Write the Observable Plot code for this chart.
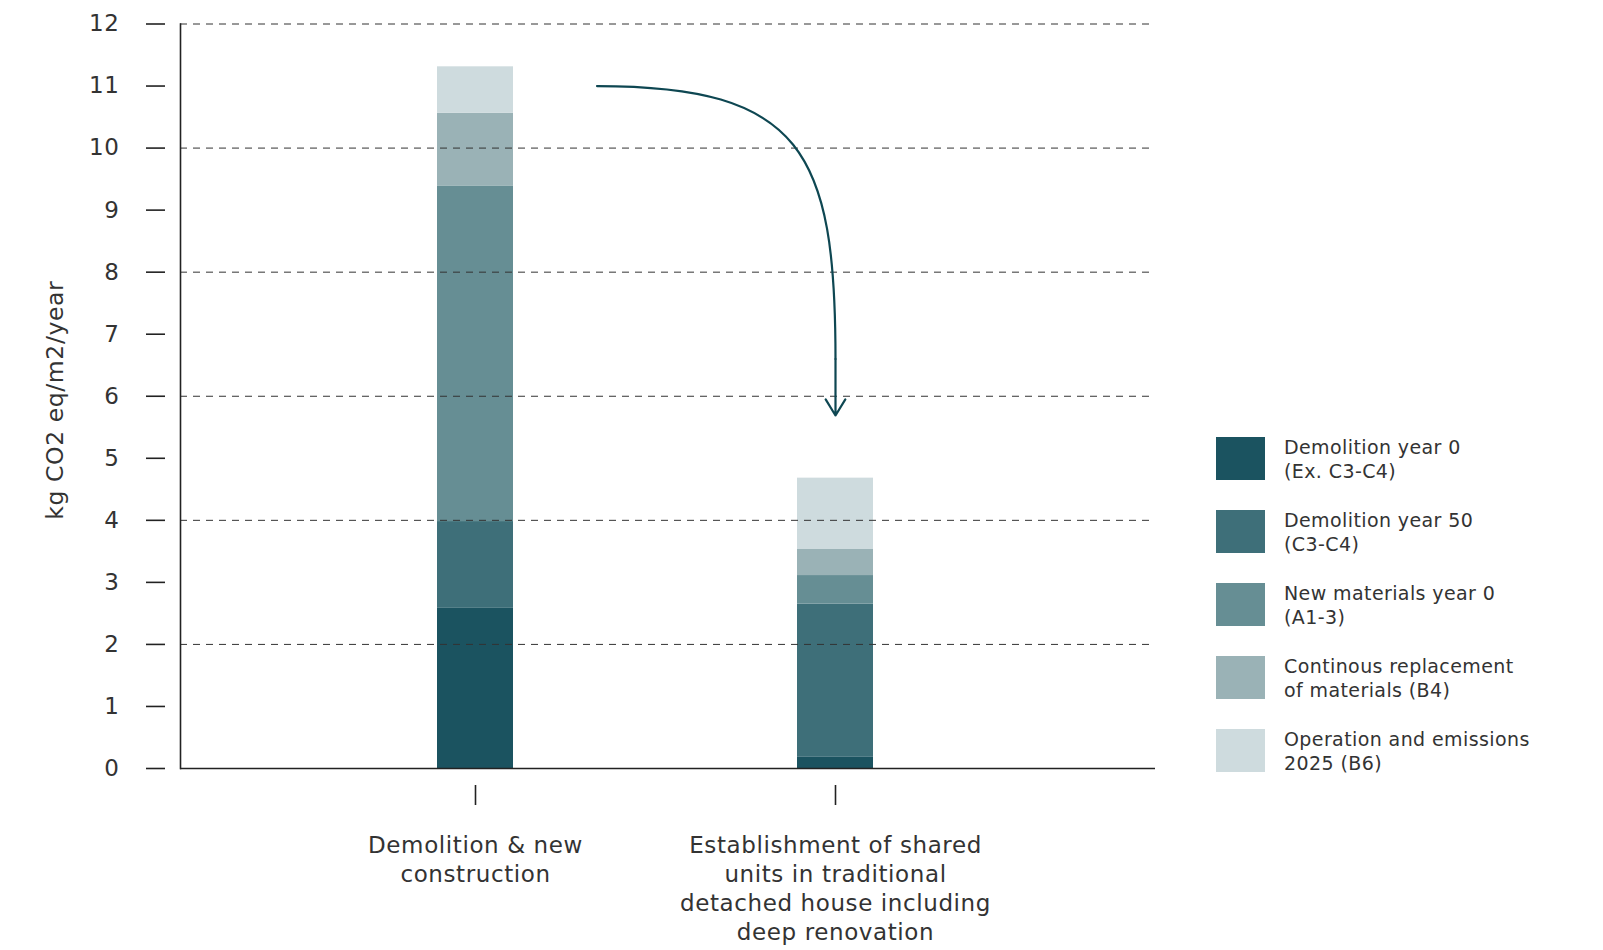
<!DOCTYPE html>
<html>
<head>
<meta charset="utf-8">
<script src="https://cdn.jsdelivr.net/npm/d3@7"></script>
<script src="https://cdn.jsdelivr.net/npm/@observablehq/plot@0.6"></script>
<style>
  html, body { margin: 0; padding: 0; background: #fff; }
  #wrap { position: relative; width: 1603px; height: 950px; font-family: "DejaVu Sans", sans-serif; }
  #chart svg text { letter-spacing: 0.6px; }
  #legend { position: absolute; left: 1216px; top: 437px; }
  .item { display: flex; align-items: center; height: 43px; margin-bottom: 30px; }
  .sw { width: 49px; height: 43px; flex: none; }
  .lbl { margin-left: 19px; font-size: 19px; line-height: 24px; letter-spacing: 0.4px; color: #333; }
</style>
</head>
<body>
<div id="wrap"><div id="chart"></div><div id="legend"></div></div>
<script>
// ---- data ----
const categories = [
  "Demolition & new construction",
  "Establishment of shared units in traditional detached house including deep renovation"
];
const categoryLabels = [
  "Demolition & new\nconstruction",
  "Establishment of shared\nunits in traditional\ndetached house including\ndeep renovation"
];
const components = [
  "Demolition year 0 (Ex. C3-C4)",
  "Demolition year 50 (C3-C4)",
  "New materials year 0 (A1-3)",
  "Continous replacement of materials (B4)",
  "Operation and emissions 2025 (B6)"
];
const componentLabels = [
  ["Demolition year 0", "(Ex. C3-C4)"],
  ["Demolition year 50", "(C3-C4)"],
  ["New materials year 0", "(A1-3)"],
  ["Continous replacement", "of materials (B4)"],
  ["Operation and emissions", "2025 (B6)"]
];
const valuesNewConstruction = [2.59, 1.39, 5.41, 1.17, 0.75];
const valuesSharedUnits = [0.18, 2.47, 0.46, 0.42, 1.15];
const colors = ["#1b5360", "#3e6f79", "#668e94", "#9ab2b6", "#cedbde"];
const yTicks = [0, 1, 2, 3, 4, 5, 6, 7, 8, 9, 10, 11, 12];
const gridValues = [2, 4, 6, 8, 10, 12];
const yTitle = "kg CO2 eq/m2/year";
const arrowFrom = {category: categories[0], value: 11};
const arrowBend = {category: categories[1], value: 6.6};
const arrowTo = {category: categories[1], value: 5.69};

// ---- table ----
const rows = [];
components.forEach((c, i) => {
  rows.push({category: categories[0], component: c, value: valuesNewConstruction[i]});
  rows.push({category: categories[1], component: c, value: valuesSharedUnits[i]});
});

// custom curve: horizontal start, vertical end (cubic), starting to the right of the first bar
function elbowCurve(context) {
  let pts = [];
  return {
    areaStart() {}, areaEnd() {},
    lineStart() { pts = []; },
    point(x, y) { pts.push([x, y]); },
    lineEnd() {
      if (pts.length < 2) return;
      const [x0, y0] = pts[0], [x1, y1] = pts[pts.length - 1];
      const sx = x0 + 121.5;
      context.moveTo(sx, y0);
      context.bezierCurveTo(sx + 0.86 * (x1 - sx), y0, x1, y1 - 0.76 * (y1 - y0), x1, y1);
    }
  };
}

const chart = Plot.plot({
  width: 1603,
  height: 950,
  marginLeft: 180,
  marginRight: 448,
  marginTop: 23.5,
  marginBottom: 182,
  style: {fontFamily: "DejaVu Sans, sans-serif", color: "#333", background: "transparent"},
  x: {domain: categories, range: [255.5, 1053.3], paddingInner: 0.7895, paddingOuter: 0.5, label: null},
  y: {domain: [0, 12], label: null},
  color: {domain: components, range: colors},
  marks: [
    Plot.barY(rows, {x: "category", y: "value", fill: "component"}),
    Plot.ruleY(gridValues, {stroke: "#333", strokeWidth: 1, strokeDasharray: "7,6"}),
    Plot.ruleY([0], {stroke: "#222", strokeWidth: 1.6}),
    Plot.frame({anchor: "left", stroke: "#222", strokeWidth: 1.6}),
    Plot.axisY(yTicks, {tickSize: 19, tickPadding: 27, dx: -15, fontSize: 23, stroke: "#222", strokeWidth: 1.6, fill: "#333",
      tickFormat: (d) => String(d), label: null}),
    Plot.axisX({tickSize: 20, dy: 17, tickPadding: 27, fontSize: 23, lineHeight: 1.26,
      tickFormat: (d) => categoryLabels[categories.indexOf(d)],
      stroke: "#222", strokeWidth: 1.6, fill: "#333", label: null}),
    Plot.text([yTitle], {frameAnchor: "left", textAnchor: "middle", rotate: -90, dx: -125, dy: 4, fontSize: 23.5, fill: "#333", text: (d) => d}),
    Plot.link([{a: arrowFrom, b: arrowBend}], {
      x1: (d) => d.a.category, y1: (d) => d.a.value,
      x2: (d) => d.b.category, y2: (d) => d.b.value,
      curve: elbowCurve, stroke: "#0e4752", strokeWidth: 2.2, strokeLinecap: "round"
    }),
    Plot.arrow([{a: arrowBend, b: arrowTo}], {
      x1: (d) => d.a.category, y1: (d) => d.a.value,
      x2: (d) => d.b.category, y2: (d) => d.b.value,
      stroke: "#0e4752", strokeWidth: 2.2, headLength: 13.4, headAngle: 63
    })
  ]
});
document.getElementById("chart").appendChild(chart);

// ---- legend ----
const legend = document.getElementById("legend");
components.forEach((c, i) => {
  const item = document.createElement("div");
  item.className = "item";
  const sw = document.createElement("div");
  sw.className = "sw";
  sw.style.background = colors[i];
  const lbl = document.createElement("div");
  lbl.className = "lbl";
  lbl.innerHTML = componentLabels[i].join("<br>");
  item.appendChild(sw);
  item.appendChild(lbl);
  legend.appendChild(item);
});
</script>
</body>
</html>
